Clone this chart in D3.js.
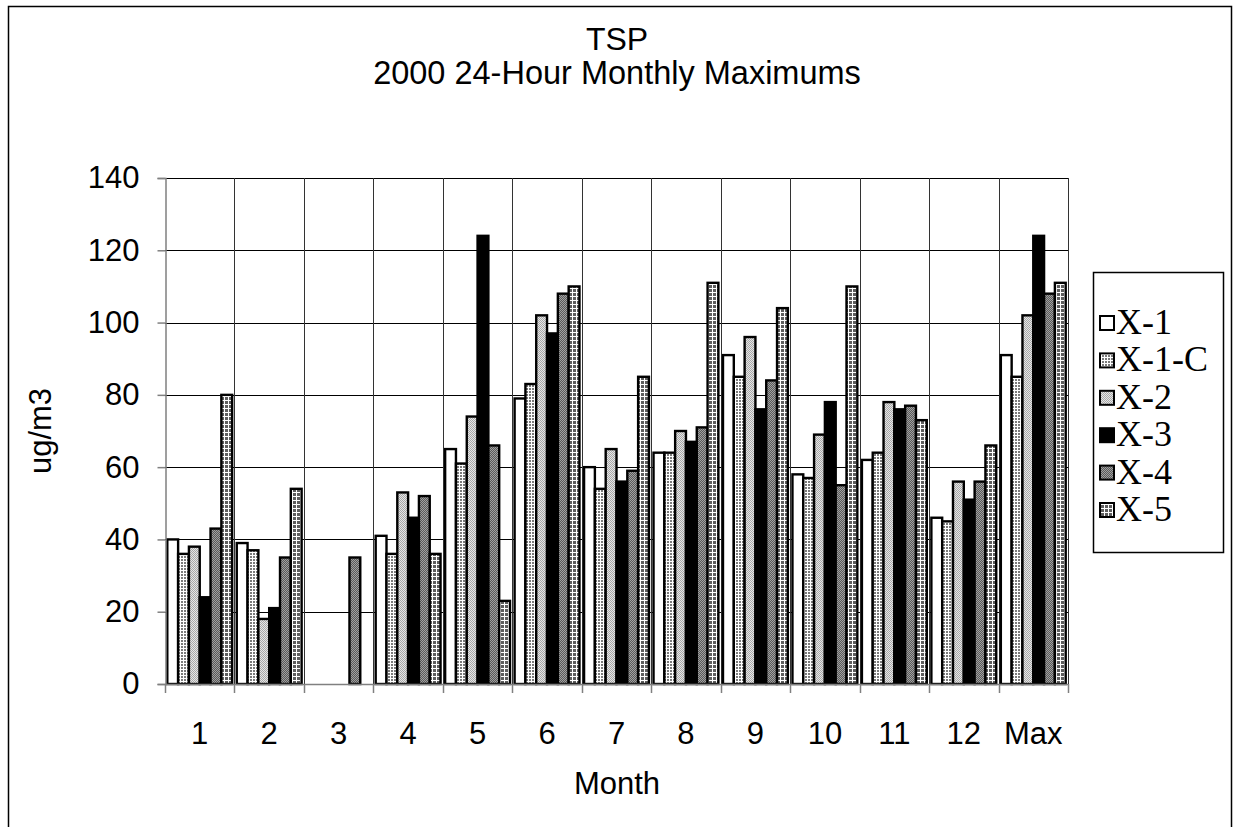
<!DOCTYPE html>
<html><head><meta charset="utf-8">
<script src="https://cdn.jsdelivr.net/npm/d3@7"></script>
<style>body{margin:0;background:#fff}svg{display:block}</style>
</head><body><svg id="c" width="1235" height="827"></svg>
<script>
const categories = ["1","2","3","4","5","6","7","8","9","10","11","12","Max"];
const seriesNames = ["X-1","X-1-C","X-2","X-3","X-4","X-5"];
const x1Vals  = [40,39,null,41,65,79,60,64,91,58,62,46,91];
const x1cVals = [36,37,null,36,61,83,54,64,85,57,64,45,85];
const x2Vals  = [38,18,null,53,74,102,65,70,96,69,78,56,102];
const x3Vals  = [24,21,null,46,124,97,56,67,76,78,76,51,124];
const x4Vals  = [43,35,35,52,66,108,59,71,84,55,77,56,108];
const x5Vals  = [80,54,null,36,23,110,85,111,104,110,73,66,111];
const yTicks = [0,20,40,60,80,100,120,140];
const allVals = [x1Vals,x1cVals,x2Vals,x3Vals,x4Vals,x5Vals];

const svg = d3.select("#c");
const defs = svg.append("defs");
function grid(id,bg,step){
  const p=defs.append("pattern").attr("id",id).attr("patternUnits","userSpaceOnUse").attr("width",step).attr("height",step);
  p.append("rect").attr("width",step).attr("height",step).attr("fill",bg);
  p.append("rect").attr("width",step).attr("height",1).attr("fill","#fff");
  p.append("rect").attr("width",1).attr("height",step).attr("fill","#fff");
}
function diag(id,a,b){
  const p=defs.append("pattern").attr("id",id).attr("patternUnits","userSpaceOnUse").attr("width",2).attr("height",2);
  p.append("rect").attr("width",2).attr("height",2).attr("fill",a);
  p.append("rect").attr("width",1).attr("height",1).attr("fill",b);
  p.append("rect").attr("x",1).attr("y",1).attr("width",1).attr("height",1).attr("fill",b);
}
grid("pX1C","#7a7a7a",3);
diag("pX2","#e6e6e6","#a8a8a8");
diag("pX4","#5a5a5a","#a0a0a0");
grid("pX5","#5e5e5e",4);
const fills = ["#ffffff","url(#pX1C)","url(#pX2)","#000000","url(#pX4)","url(#pX5)"];

// outer border
svg.append("rect").attr("x",8.5).attr("y",6.5).attr("width",1223).attr("height",830)
  .attr("fill","none").attr("stroke","#000").attr("stroke-width",1.5);

const L=165, R=1068, T=178, B=684;
const x0 = d3.scaleBand().domain(categories).range([L,R]).padding(0);
const bw = x0.bandwidth();
const x1 = d3.scaleBand().domain(seriesNames).range([2.3, bw-2.3]).padding(0);
const y = d3.scaleLinear().domain([0,140]).range([B,T]);
const af = "Arial, 'Liberation Sans', sans-serif";
const fs = 31;

// horizontal gridlines
svg.append("g").selectAll("line").data(yTicks.filter(d=>d>0)).join("line")
  .attr("x1",L).attr("x2",R).attr("y1",d=>Math.round(y(d))+0.5).attr("y2",d=>Math.round(y(d))+0.5)
  .attr("stroke","#000").attr("stroke-width",1);
// vertical gridlines at category boundaries
const bounds = categories.map(c=>x0(c)).concat([R]);
svg.append("g").selectAll("line").data(bounds.slice(1)).join("line")
  .attr("x1",d=>Math.round(d)+0.5).attr("x2",d=>Math.round(d)+0.5).attr("y1",T).attr("y2",B)
  .attr("stroke","#333").attr("stroke-width",1);

// bars
const g = svg.append("g");
categories.forEach((c,ci)=>{
  seriesNames.forEach((s,si)=>{
    const v = allVals[si][ci];
    if(v==null) return;
    g.append("rect")
      .attr("x",x0(c)+x1(s)).attr("y",y(v))
      .attr("width",x1.bandwidth()).attr("height",B-y(v))
      .attr("fill",fills[si]).attr("stroke","#000").attr("stroke-width",2.4);
  });
});

// axes
const yAxis = d3.axisLeft(y).tickValues(yTicks).tickSize(8).tickPadding(18).tickFormat(d3.format("d"));
const ya = svg.append("g").attr("transform",`translate(${L+0.5},0)`).call(yAxis);
ya.select(".domain").attr("stroke","#808080").attr("stroke-width",1.5);
ya.selectAll(".tick line").attr("stroke","#808080").attr("stroke-width",1.5);
ya.selectAll("text").attr("font-family",af).attr("font-size",fs).attr("fill","#000");

svg.append("line").attr("x1",L).attr("x2",R).attr("y1",B+0.5).attr("y2",B+0.5).attr("stroke","#808080").attr("stroke-width",1.5);
svg.append("g").selectAll("line").data(bounds).join("line")
  .attr("x1",d=>Math.round(d)+0.5).attr("x2",d=>Math.round(d)+0.5).attr("y1",B).attr("y2",B+9)
  .attr("stroke","#808080").attr("stroke-width",1.5);
svg.append("g").selectAll("text").data(categories).join("text")
  .attr("x",d=>x0(d)+bw/2).attr("y",744).attr("text-anchor","middle")
  .attr("font-family",af).attr("font-size",fs).text(d=>d);

// titles
svg.append("text").attr("x",617).attr("y",50).attr("text-anchor","middle").attr("font-family",af).attr("font-size",32).text("TSP");
svg.append("text").attr("x",617).attr("y",84).attr("text-anchor","middle").attr("font-family",af).attr("font-size",32.5).text("2000 24-Hour Monthly Maximums");
svg.append("text").attr("x",617).attr("y",794).attr("text-anchor","middle").attr("font-family",af).attr("font-size",fs).text("Month");
svg.append("text").attr("transform","translate(51,431) rotate(-90)").attr("text-anchor","middle").attr("font-family",af).attr("font-size",fs).text("ug/m3");

// legend
const lg = svg.append("g");
lg.append("rect").attr("x",1093.5).attr("y",272.5).attr("width",130).attr("height",280).attr("fill","#fff").attr("stroke","#000").attr("stroke-width",1.5);
seriesNames.forEach((s,i)=>{
  const cy = 323 + i*37.4;
  lg.append("rect").attr("x",1100).attr("y",cy-7).attr("width",14).attr("height",14)
    .attr("fill",fills[i]).attr("stroke","#000").attr("stroke-width",2);
  lg.append("text").attr("x",1116).attr("y",cy+11).attr("font-family","'Times New Roman', 'Liberation Serif', serif").attr("font-size",36).text(s);
});
</script></body></html>
